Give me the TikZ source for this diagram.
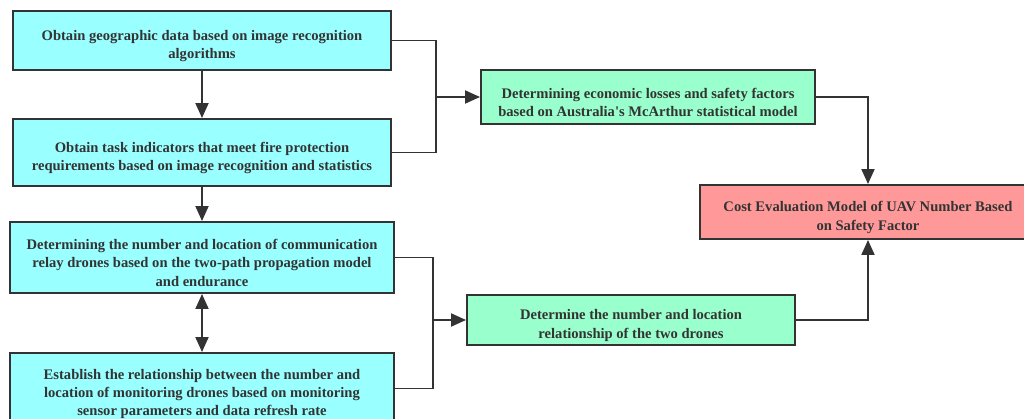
\documentclass[tikz,border=0pt]{standalone}
\usepackage{fontspec}
\setmainfont{Liberation Serif}[Ligatures=TeXOff]
\usepackage{xcolor}
\definecolor{boxcyan}{RGB}{153,255,255}
\definecolor{boxgreen}{RGB}{153,255,204}
\definecolor{boxred}{RGB}{255,153,153}
\definecolor{inkgray}{RGB}{51,51,51}
\usetikzlibrary{arrows.meta}
\newcommand{\topgap}{\rule{0pt}{12pt}}
\tikzstyle{block} = [rectangle, draw=inkgray, line width=1.1pt, align=center,
  text=inkgray, font=\bfseries\fontsize{8.3}{10.3}\selectfont, inner sep=2pt]
\tikzstyle{link} = [draw=inkgray, line width=1.1pt]
\tikzstyle{arr} = [link, -{Triangle[length=3mm,width=2.6mm]}]

\begin{document}
\begin{tikzpicture}
  \useasboundingbox (0,0) rectangle (20.48,-8.38);
  \clip (0,0) rectangle (20.48,-8.38);
  % left column
  \node[block, fill=boxcyan, minimum width=7.56cm, minimum height=1.18cm]
    (geo) at (4.04,-0.81) {\topgap Obtain geographic data based on image recognition\\algorithms};
  \node[block, fill=boxcyan, minimum width=7.56cm, minimum height=1.34cm]
    (task) at (4.04,-3.05) {\topgap Obtain task indicators that meet fire protection\\requirements based on image recognition and statistics};
  \node[block, fill=boxcyan, minimum width=7.68cm, minimum height=1.42cm]
    (relay) at (4.04,-5.15) {\topgap Determining the number and location of communication\\relay drones based on the two-path propagation model\\and endurance};
  \node[block, fill=boxcyan, minimum width=7.68cm, minimum height=1.42cm]
    (monitor) at (4.04,-7.77) {\topgap Establish the relationship between the number and\\location of monitoring drones based on monitoring\\sensor parameters and data refresh rate};
  % middle column
  \node[block, fill=boxgreen, minimum width=6.68cm, minimum height=1.08cm]
    (econ) at (12.96,-1.94) {\topgap Determining economic losses and safety factors\\based on Australia's McArthur statistical model};
  \node[block, fill=boxgreen, minimum width=6.56cm, minimum height=0.96cm]
    (drones) at (12.62,-6.4) {\topgap Determine the number and location\\relationship of the two drones};
  % result
  \node[block, fill=boxred, minimum width=6.72cm, minimum height=1.08cm]
    (cost) at (17.36,-4.24) {\topgap Cost Evaluation Model of UAV Number Based\\on Safety Factor};
  % junctions
  \coordinate (j1) at (8.72,-1.94);
  \coordinate (j2) at (8.66,-6.4);
  \draw[link] (geo.east) -| (j1) |- (task.east);
  \draw[link] (relay.east) -| (j2) |- (monitor.east);
  \draw[arr] (j1) -- (econ.west);
  \draw[arr] (j2) -- (drones.west);
  \draw[arr] (geo) -- (task);
  \draw[arr] (task) -- (relay);
  \draw[link, {Triangle[length=3mm,width=2.6mm]}-{Triangle[length=3mm,width=2.6mm]}] (relay) -- (monitor);
  \draw[arr] (econ.east) -| (cost.north);
  \draw[arr] (drones.east) -| (cost.south);
\end{tikzpicture}
\end{document}
